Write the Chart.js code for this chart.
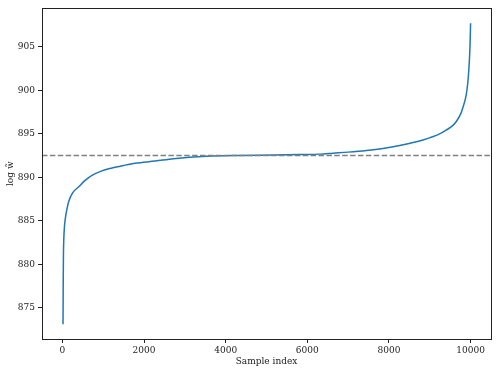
<!DOCTYPE html>
<html lang="en">
<head>
    <meta charset="UTF-8">
    <title>log weights</title>
    <script src="https://cdn.jsdelivr.net/npm/chart.js@4.4.1/dist/chart.umd.min.js"></script>
    <style>
        html, body { margin: 0; padding: 0; background: #fff; }
        #wrap { width: 498px; height: 373px; }
    </style>
</head>
<body>
    <div id="wrap"><canvas id="grafico"></canvas></div>

<script>
    // sorted log weights
    var sampleIndex = [15, 20, 25, 35, 50, 73, 110, 154, 250, 400, 550, 725, 950, 1215, 1500, 1785, 2274, 2722, 3537, 4352, 5200, 5819, 6308, 6634, 7000, 7449, 7850, 8264, 8834, 9242, 9400, 9568, 9650, 9760, 9812, 9894, 9930, 9959, 9985, 10000]
    var logWeight = [873.1, 878.0, 881.0, 883.0, 884.3, 885.3, 886.3, 887.2, 888.2, 888.9, 889.6, 890.2, 890.7, 891.06, 891.35, 891.6, 891.85, 892.12, 892.4, 892.5, 892.55, 892.6, 892.65, 892.76, 892.88, 893.07, 893.3, 893.64, 894.28, 894.97, 895.4, 895.95, 896.4, 897.3, 898.0, 899.5, 900.8, 902.5, 905.0, 907.7]

    var refLine = 892.5
    var xTicks = [0, 2000, 4000, 6000, 8000, 10000]
    var yTicks = [875, 880, 885, 890, 895, 900, 905]

    var fonte = { family: 'DejaVu Serif', size: 9 }

    // caixa em volta do grafico, como no matplotlib
    var moldura = {
        id: 'moldura',
        afterDraw(chart) {
            var a = chart.chartArea
            var ctx = chart.ctx
            ctx.save()
            ctx.strokeStyle = '#222'
            ctx.lineWidth = 1
            ctx.strokeRect(Math.round(a.left) + 0.5, Math.round(a.top) + 0.5,
                Math.round(a.right - a.left), Math.round(a.bottom - a.top))
            ctx.restore()
        }
    }

    const pontos = sampleIndex.map((x, i) => ({ x: x, y: logWeight[i] }))

    const config = {
        type: 'line',
        data: {
            datasets: [{
                data: [{ x: -500, y: refLine }, { x: 10500, y: refLine }],
                borderColor: '#808080',
                borderWidth: 1.5,
                borderDash: [5.5, 2.4],
                pointRadius: 0
            }, {
                data: pontos,
                borderColor: '#1f77b4',
                borderWidth: 1.5,
                pointRadius: 0,
                cubicInterpolationMode: 'monotone'
            }]
        },
        options: {
            responsive: true,
            maintainAspectRatio: false,
            animation: false,
            layout: { padding: { left: 0, top: 0, right: 7, bottom: 0 } },
            plugins: {
                legend: { display: false },
                tooltip: { enabled: false }
            },
            scales: {
                x: {
                    type: 'linear',
                    min: -500,
                    max: 10500,
                    afterBuildTicks: (s) => { s.ticks = xTicks.map(v => ({ value: v })) },
                    afterFit: (s) => { s.height = 34 },
                    grid: { drawOnChartArea: false, tickLength: 4, tickColor: '#222' },
                    border: { color: '#222' },
                    ticks: { font: fonte, color: '#222', padding: 2, maxRotation: 0, callback: (v) => String(v) },
                    title: { display: true, text: 'Sample index', font: fonte, color: '#222', padding: { top: 0, bottom: 6 } }
                },
                y: {
                    min: 871.4,
                    max: 909.4,
                    afterBuildTicks: (s) => { s.ticks = yTicks.map(v => ({ value: v })) },
                    afterFit: (s) => { s.width = 42 },
                    grid: { drawOnChartArea: false, tickLength: 4, tickColor: '#222' },
                    border: { color: '#222' },
                    ticks: { font: fonte, color: '#222', padding: 3 },
                    title: { display: true, text: 'log w\u0303', font: fonte, color: '#222', padding: { top: 5, bottom: 2 } }
                }
            }
        },
        plugins: [moldura]
    }

    const grafico = new Chart(document.getElementById('grafico'), config)
</script>
</body>
</html>
